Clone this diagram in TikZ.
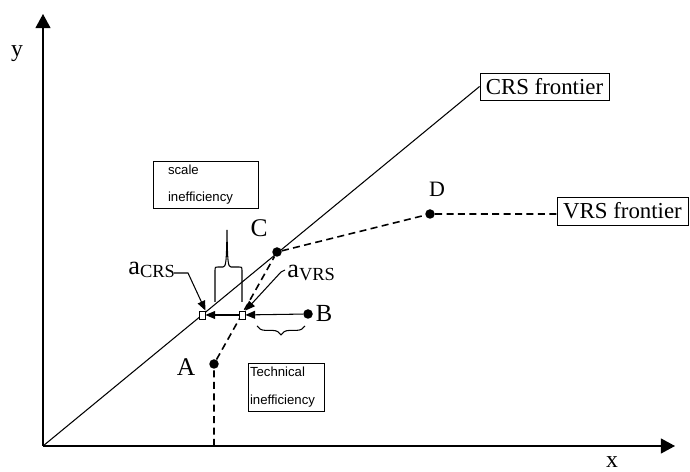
\documentclass[tikz,border=0pt]{standalone}
\usepackage{fontspec}
\setmainfont{Liberation Serif}
\newfontfamily\arialf{Liberation Sans}
\usetikzlibrary{arrows.meta,decorations.pathreplacing}
\begin{document}
\begin{tikzpicture}[x=0.02cm,y=-0.02cm,
  axis/.style={line width=0.7pt,-{Triangle[length=8pt,width=8.5pt]}},
  frontier/.style={line width=0.6pt},
  vrsline/.style={line width=0.9pt,dash pattern=on 4pt off 2.5pt},
  pt/.style={circle,fill=black,inner sep=0pt,minimum size=0.19cm},
  sq/.style={rectangle,draw,fill=white,inner sep=0pt,minimum width=0.12cm,minimum height=0.16cm,line width=0.5pt},
  lbl/.style={font=\fontsize{13.5}{15}\selectfont,inner sep=0pt},
  framebox/.style={draw,line width=0.5pt,inner sep=0pt,font=\fontsize{13}{15}\selectfont},
  note/.style={draw,line width=0.5pt,font=\arialf\fontsize{7.5}{15.5}\selectfont,align=left,inner ysep=0pt},
  small/.style={line width=0.6pt,-{Triangle[length=5.5pt,width=4.5pt]}},
  bracket/.style={line width=0.6pt}
]
\useasboundingbox (0,0) rectangle (690,472);
% axes
\coordinate (O) at (43,446);
\coordinate (ytip) at (43,14);
\coordinate (xtip) at (675,446);
\draw[axis] (O) -- (ytip);
\draw[axis] (O) -- (xtip);
\node[lbl] (ylbl) at (17,54) {y};
\node[lbl] (xlbl) at (612,462) {x};
% frontier labels
\node[framebox,minimum width=2.58cm,minimum height=0.54cm] (crs) at (544.5,86.5) {CRS frontier};
\node[framebox,minimum width=2.62cm,minimum height=0.56cm] (vrs) at (622.5,211) {VRS frontier};
% points
\node[pt] (A) at (214,364) {};
\node[pt] (B) at (308,314) {};
\node[pt] (C) at (277,252) {};
\node[pt] (D) at (430,214) {};
\coordinate (Abase) at (214,446);
% CRS frontier
\draw[frontier] (O) -- (crs.west);
% VRS frontier
\draw[vrsline] (Abase) -- (A) -- (C) -- (D) -- (D -| vrs.west);
% projection squares
\node[sq] (aC) at (202,315) {};
\node[sq] (aV) at (242,315) {};
\draw[small] (B) -- (aV);
\draw[small] (aV) -- (aC);
% point labels
\node[lbl,font=\fontsize{14.5}{16}\selectfont] (Al) at (186,367) {A};
\node[lbl,font=\fontsize{14}{16}\selectfont] (Bl) at (324,313) {B};
\node[lbl,font=\fontsize{14.5}{16}\selectfont] (Cl) at (259,228) {C};
\node[lbl,font=\fontsize{12.5}{14}\selectfont] (Dl) at (437,189) {D};
% aCRS / aVRS labels
\node[lbl,anchor=west] (aCl) at (128,270) {\fontsize{15}{16}\selectfont a\raisebox{-0.3ex}{\fontsize{10.5}{12}\selectfont CRS}};
\node[lbl,anchor=west] (aVl) at (287,273) {\fontsize{15}{16}\selectfont a\raisebox{-0.3ex}{\fontsize{10.5}{12}\selectfont VRS}};
\coordinate (aCk) at (188,273);
\draw[small] (174,273) -- (aCk) -- (aC.north east);
\coordinate (aVs) at (285,270);
\draw[small] (aVs) -- (281,272) -- (aV.north east);
% technical inefficiency brace
\draw[bracket,decorate,decoration={brace,amplitude=5pt}] (305,326) -- (257,326);
% scale inefficiency bracket
\draw[bracket] (215,302) -- (215,270) .. controls (215,267) .. (218,267) -- (223,267)
  .. controls (226,267) and (226.5,262) .. (227,230)
  .. controls (227.5,262) and (228,267) .. (231,267) -- (239,267)
  .. controls (242,267) .. (242,270) -- (242,302);
% notes
\node[note,text width=1.5cm,inner xsep=0.3cm,minimum height=0.94cm] (scl) at (205.5,184.5) {scale\\inefficiency};
\node[note,text width=1.44cm,inner xsep=0.04cm,minimum height=0.96cm] (tech) at (286,387) {Technical\\inefficiency};
\end{tikzpicture}
\end{document}
